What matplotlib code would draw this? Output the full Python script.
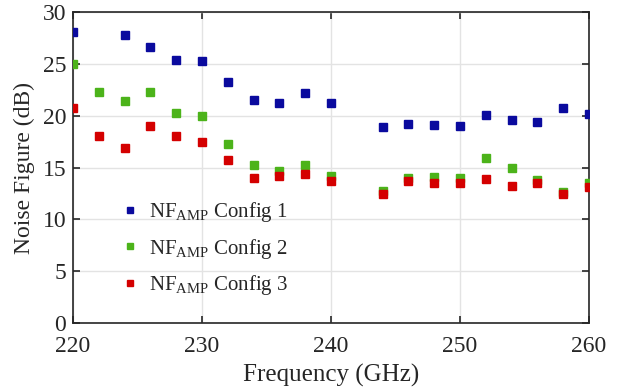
import matplotlib
matplotlib.use("Agg")
import matplotlib.pyplot as plt
import numpy as np

# ----------------------------------------------------------------------------------------------------------------------
freq = [220, 222, 224, 226, 228, 230, 232, 234, 236, 238, 240,
        244, 246, 248, 250, 252, 254, 256, 258, 260]

# config 1 has no point at 222 GHz
freq_c1 = [220, 224, 226, 228, 230, 232, 234, 236, 238, 240,
           244, 246, 248, 250, 252, 254, 256, 258, 260]
nf_config1 = [28.1, 27.8, 26.6, 25.4, 25.3, 23.2, 21.5, 21.2, 22.2, 21.25,
              18.9, 19.2, 19.1, 19.0, 20.1, 19.6, 19.4, 20.7, 20.2]
nf_config2 = [24.95, 22.3, 21.4, 22.3, 20.3, 20.0, 17.3, 15.2, 14.7, 15.2, 14.2,
              12.75, 14.0, 14.05, 14.0, 15.9, 15.0, 13.8, 12.65, 13.5]
nf_config3 = [20.7, 18.0, 16.9, 19.0, 18.0, 17.5, 15.7, 14.0, 14.2, 14.4, 13.65,
              12.4, 13.7, 13.55, 13.55, 13.9, 13.25, 13.55, 12.4, 13.15]

labels = ["NF$_{\\mathrm{AMP}}$ Config 1", "NF$_{\\mathrm{AMP}}$ Config 2", "NF$_{\\mathrm{AMP}}$ Config 3"]
colors = ["#0a0a9e", "#4cb31a", "#d40000"]
# ----------------------------------------------------------------------------------------------------------------------

plt.rcParams['font.family'] = ['Liberation Serif', 'DejaVu Serif']
plt.rcParams['mathtext.fontset'] = 'custom'
plt.rcParams['mathtext.rm'] = 'Liberation Serif'
plt.rcParams['mathtext.it'] = 'Liberation Serif:italic'

fig = plt.figure(figsize=(6.26, 3.91), dpi=100)
ax = fig.add_axes([73 / 626, (391 - 323) / 391, 516 / 626, 311 / 391])

ax.plot(freq_c1, nf_config1, 's', ms=5.5, color=colors[0], label=labels[0], zorder=3)
ax.plot(freq, nf_config2, 's', ms=5.5, color=colors[1], label=labels[1], zorder=3)
ax.plot(freq, nf_config3, 's', ms=5.5, color=colors[2], label=labels[2], zorder=3)

ax.set_xlim(220, 260)
ax.set_ylim(0, 30)
ax.set_xticks([220, 230, 240, 250, 260])
ax.set_yticks([0, 5, 10, 15, 20, 25, 30])
ax.grid(True, color='#e3e3e3', lw=1)
ax.set_axisbelow(True)

for sp in ax.spines.values():
    sp.set_color('#262626')
    sp.set_linewidth(1.2)
ax.tick_params(direction='in', top=True, right=True, length=5, width=1.2,
               colors='#262626', labelsize=17)
ax.tick_params(axis='x', pad=9)
ax.tick_params(axis='y', pad=5)

ax.set_xlabel('Frequency (GHz)', fontsize=18, color='#262626', labelpad=5)
ax.set_ylabel('Noise Figure (dB)', fontsize=17, color='#262626', labelpad=5)

leg = ax.legend(loc='upper left', bbox_to_anchor=(0.055, 0.455), frameon=False,
                fontsize=15, markerscale=0.85, handlelength=0.9, handletextpad=0.5,
                labelspacing=0.6)
for t in leg.get_texts():
    t.set_color('#262626')

fig.savefig('out.png', dpi=100)
